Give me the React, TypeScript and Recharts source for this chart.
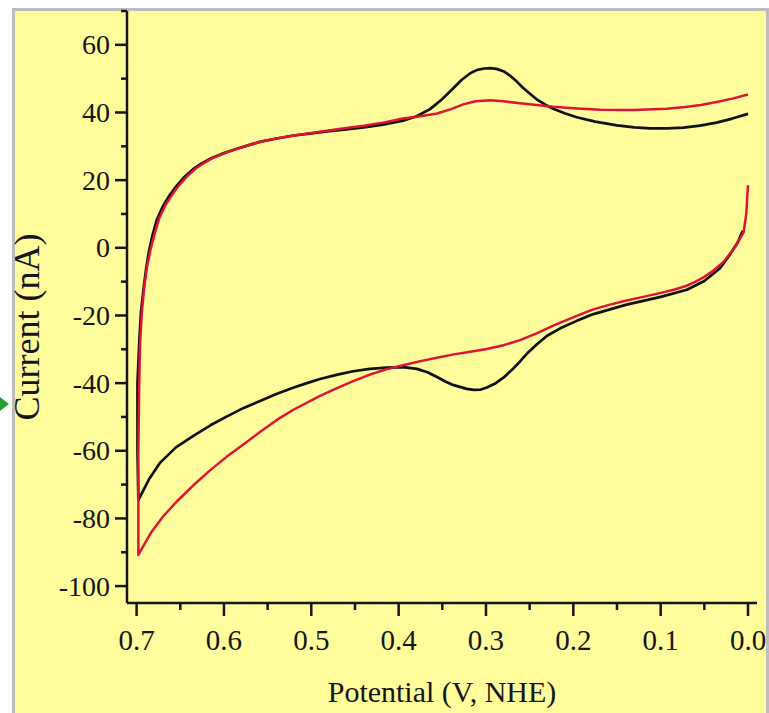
import React from 'react';
import { LineChart, Line, XAxis, YAxis } from 'recharts';

// cyclic voltammograms, potential (V vs NHE) / current (nA)
const blackLower: [number, number][] = [
  [0.006, 5.0], [0.012, 1.5], [0.022, -2.5], [0.032, -6.0], [0.05, -9.8], [0.07, -12.4],
  [0.1, -14.5], [0.139, -16.8], [0.177, -19.6], [0.196, -21.6], [0.215, -23.8], [0.23, -26.0],
  [0.242, -28.6], [0.252, -31.0], [0.261, -33.6], [0.27, -36.0], [0.28, -38.4], [0.29, -40.2],
  [0.299, -41.3], [0.306, -41.9], [0.314, -42.0], [0.322, -41.7], [0.337, -40.6], [0.346, -39.6],
  [0.356, -38.2], [0.367, -36.8], [0.379, -35.8], [0.395, -35.3], [0.414, -35.4], [0.433, -35.8],
  [0.452, -36.5], [0.47, -37.5], [0.49, -38.8], [0.505, -40.0], [0.52, -41.3], [0.54, -43.2],
  [0.558, -45.2], [0.578, -47.4], [0.597, -49.9], [0.615, -52.4], [0.635, -55.6], [0.655, -59.0],
  [0.673, -63.5], [0.686, -68.5], [0.698, -74.6],
];

const blackUpper: [number, number][] = [
  [0.699, -60], [0.699, -40], [0.697, -28], [0.695, -19], [0.692, -12], [0.689, -6],
  [0.686, -1.2], [0.682, 3.5], [0.677, 8.2], [0.67, 12.2], [0.662, 15.6], [0.654, 18.4],
  [0.645, 21.0], [0.635, 23.3], [0.625, 25.0], [0.616, 26.3], [0.6, 28.0], [0.585, 29.3],
  [0.57, 30.5], [0.559, 31.3], [0.54, 32.3], [0.52, 33.2], [0.5, 33.8], [0.482, 34.4],
  [0.46, 35.0], [0.44, 35.6], [0.418, 36.4], [0.395, 37.6], [0.38, 38.8], [0.364, 41.0],
  [0.35, 44.0], [0.338, 47.0], [0.328, 49.6], [0.318, 51.6], [0.31, 52.6], [0.302, 53.0],
  [0.295, 53.1], [0.288, 52.9], [0.28, 52.2], [0.272, 50.8], [0.265, 49.2], [0.258, 47.4],
  [0.25, 45.6], [0.242, 43.9], [0.232, 42.3], [0.223, 41.1], [0.21, 39.8], [0.196, 38.6],
  [0.175, 37.3], [0.15, 36.2], [0.13, 35.6], [0.112, 35.3], [0.092, 35.3], [0.074, 35.5],
  [0.055, 36.1], [0.036, 37.0], [0.018, 38.2], [0.0, 39.6],
];

const redLower: [number, number][] = [
  [0.0, 18.5], [0.002, 10.0], [0.005, 4.6], [0.014, 0.5], [0.028, -4.2], [0.04, -6.8],
  [0.05, -8.6], [0.06, -10.0], [0.07, -11.2], [0.085, -12.4], [0.101, -13.4], [0.12, -14.5],
  [0.139, -15.6], [0.158, -16.8], [0.177, -18.2], [0.186, -19.1], [0.196, -20.1], [0.21, -21.6],
  [0.223, -23.0], [0.242, -25.3], [0.261, -27.3], [0.28, -28.8], [0.299, -29.9], [0.318, -30.7],
  [0.337, -31.5], [0.355, -32.4], [0.375, -33.5], [0.395, -34.7], [0.414, -35.9], [0.433, -37.5],
  [0.452, -39.4], [0.47, -41.4], [0.49, -43.8], [0.52, -47.8], [0.539, -50.8], [0.558, -54.3],
  [0.577, -58.0], [0.597, -61.8], [0.616, -65.8], [0.635, -70.2], [0.654, -75.0], [0.67, -79.5],
  [0.684, -84.4], [0.691, -87.6], [0.698, -90.8],
];

const redUpper: [number, number][] = [
  [0.698, -75], [0.698, -60], [0.697, -40], [0.696, -28], [0.694, -19], [0.691, -11],
  [0.688, -5.5], [0.684, -0.5], [0.679, 4.5], [0.674, 8.8], [0.667, 12.6], [0.659, 15.8],
  [0.651, 18.6], [0.642, 21.2], [0.632, 23.5], [0.622, 25.2], [0.613, 26.5], [0.598, 28.1],
  [0.583, 29.4], [0.568, 30.6], [0.557, 31.4], [0.538, 32.4], [0.518, 33.3], [0.498, 34.0],
  [0.48, 34.7], [0.46, 35.4], [0.44, 36.1], [0.418, 37.0], [0.395, 38.2], [0.375, 38.9],
  [0.356, 39.7], [0.34, 41.0], [0.326, 42.4], [0.312, 43.3], [0.295, 43.6], [0.28, 43.3],
  [0.261, 42.7], [0.242, 42.2], [0.223, 41.7], [0.196, 41.2], [0.169, 40.8], [0.131, 40.7],
  [0.093, 41.1], [0.072, 41.6], [0.054, 42.2], [0.036, 43.1], [0.018, 44.1], [0.0, 45.3],
];

const X_MAJOR = [0, 0.1, 0.2, 0.3, 0.4, 0.5, 0.6, 0.7];
const X_MINOR = [0.05, 0.15, 0.25, 0.35, 0.45, 0.55, 0.65];
const Y_MAJOR = [-100, -80, -60, -40, -20, 0, 20, 40, 60];
const Y_MINOR = [-90, -70, -50, -30, -10, 10, 30, 50, 70];

const toPts = (arr: [number, number][]) => arr.map(([x, y]) => ({ x, y }));
const blackData = toPts([...blackLower, ...blackUpper]);
const redData = toPts([...redLower, ...redUpper]);

const FONT = '"Liberation Serif", "Times New Roman", serif';
const INK = '#151515';
const BG = '#FFFC9B';

const XTick = ({ x, y, payload }: any) => {
  const major = X_MAJOR.some(v => Math.abs(v - payload.value) < 1e-6);
  return (
    <g>
      <line x1={x} x2={x} y1={y} y2={y + (major ? 13 : 7)} stroke={INK} strokeWidth={2.5} />
      {major && (
        <text x={x} y={y + 47} textAnchor="middle" fontFamily={FONT} fontSize={29} fill={INK}>
          {payload.value.toFixed(1)}
        </text>
      )}
    </g>
  );
};

const YTick = ({ x, y, payload }: any) => {
  const major = Y_MAJOR.includes(payload.value);
  return (
    <g>
      <line x1={x} x2={x - (major ? 12 : 6)} y1={y} y2={y} stroke={INK} strokeWidth={2.5} />
      {major && (
        <text x={x - 17} y={y + 9.5} textAnchor="end" fontFamily={FONT} fontSize={28} fill={INK}>
          {payload.value}
        </text>
      )}
    </g>
  );
};

export default function App() {
  return (
    <div style={{ position: 'absolute', left: 0, top: 0, width: 769, height: 713, overflow: 'hidden', background: '#fff' }}>
      <div
        style={{
          position: 'absolute', left: 12, top: 8, width: 757, height: 730,
          border: '3px solid #bdbdbd', background: BG, boxSizing: 'border-box',
        }}
      />
      <svg width={10} height={24} style={{ position: 'absolute', left: 0, top: 392 }}>
        <polygon points="0,5 9,12 0,19" fill="#1fa32a" />
      </svg>
      <div style={{ position: 'absolute', left: 0, top: 0 }}>
        <LineChart width={769} height={713} margin={{ top: 11, right: 12, bottom: 50, left: 37 }}>
          <XAxis
            type="number"
            dataKey="x"
            domain={[-0.0103, 0.711]}
            reversed
            allowDataOverflow
            ticks={[...X_MAJOR, ...X_MINOR]}
            interval={0}
            height={60}
            tickSize={0}
            tickMargin={0}
            tickLine={false}
            tick={<XTick />}
            axisLine={{ stroke: INK, strokeWidth: 2.5 }}
            label={({ viewBox }: any) => (
              <text
                x={viewBox.x + viewBox.width / 2}
                y={viewBox.y + 99}
                textAnchor="middle"
                fontFamily={FONT}
                fontSize={30}
                fill={INK}
              >
                Potential (V, NHE)
              </text>
            )}
          />
          <YAxis
            type="number"
            dataKey="y"
            domain={[-105, 70]}
            allowDataOverflow
            ticks={[...Y_MAJOR, ...Y_MINOR]}
            interval={0}
            width={90}
            tickSize={0}
            tickMargin={0}
            tickLine={false}
            tick={<YTick />}
            axisLine={{ stroke: INK, strokeWidth: 2.5 }}
            label={({ viewBox }: any) => {
              const cx = 39;
              const cy = viewBox.y + viewBox.height / 2 + 20;
              return (
                <text
                  x={cx}
                  y={cy}
                  transform={`rotate(-90, ${cx}, ${cy})`}
                  textAnchor="middle"
                  fontFamily={FONT}
                  fontSize={36}
                  fill={INK}
                >
                  Current (nA)
                </text>
              );
            }}
          />
          <Line
            data={blackData}
            dataKey="y"
            type="linear"
            stroke="#111"
            strokeWidth={2.7}
            strokeLinejoin="round"
            dot={false}
            activeDot={false}
            isAnimationActive={false}
          />
          <Line
            data={redData}
            dataKey="y"
            type="linear"
            stroke="#DC1438"
            strokeWidth={2.5}
            strokeLinejoin="round"
            dot={false}
            activeDot={false}
            isAnimationActive={false}
          />
        </LineChart>
      </div>
    </div>
  );
}
